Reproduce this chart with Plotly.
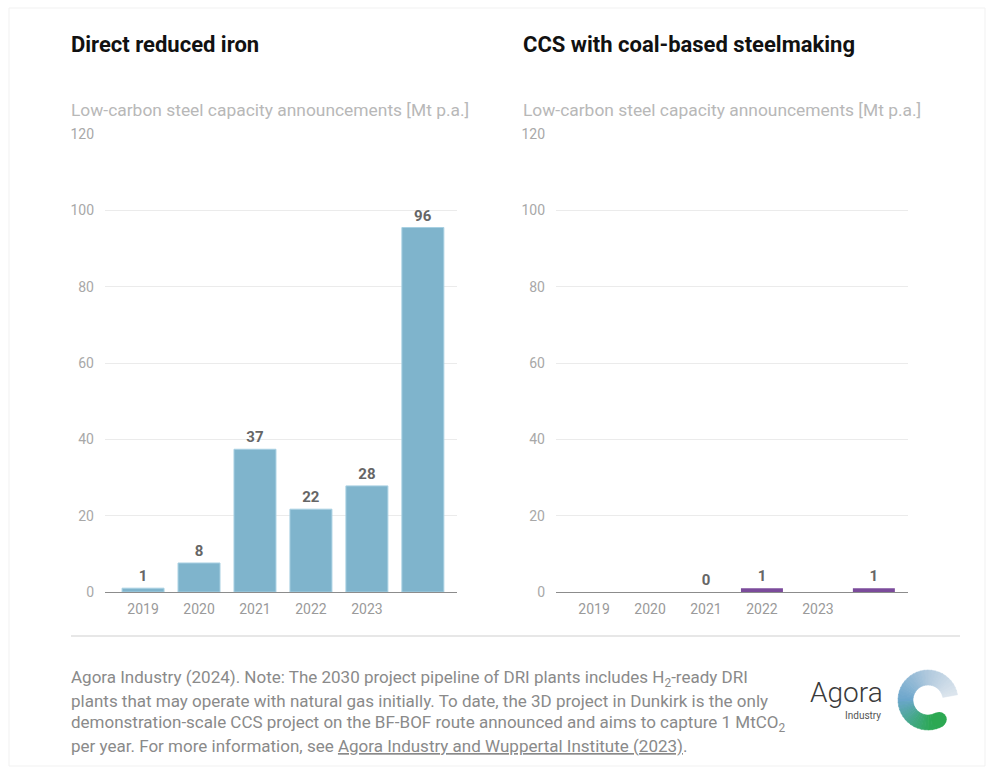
import math
import plotly.graph_objects as go

# ---------------- data ----------------
categories = ["2019", "2020", "2021", "2022", "2023", "2030"]
tick_labels = ["2019", "2020", "2021", "2022", "2023", ""]
dri_values = [1, 7.6, 37.4, 21.7, 27.8, 95.5]
dri_labels = ["1", "8", "37", "22", "28", "96"]
ccs_values = [None, None, 0, 1, None, 1]
ccs_labels = ["", "", "0", "1", "", "1"]

W, H = 987, 767
FONT = "Roboto"


def px(x):
    return x / W


def py(y):
    return 1 - y / H


fig = go.Figure()

fig.add_trace(go.Bar(
    x=categories, y=dri_values, text=dri_labels, textposition="outside",
    textfont=dict(family=FONT, size=15, color="#666666", weight="bold"),
    marker=dict(color="#7fb4cc", line=dict(color="#a8d0e2", width=1)),
    cliponaxis=False, xaxis="x", yaxis="y", showlegend=False, hoverinfo="skip",
))
fig.add_trace(go.Bar(
    x=categories, y=ccs_values, text=ccs_labels, textposition="outside",
    textfont=dict(family=FONT, size=15, color="#666666", weight="bold"),
    marker=dict(color="#7b4b9b", line=dict(color="#7b4b9b", width=0)),
    cliponaxis=False, xaxis="x2", yaxis="y2", showlegend=False, hoverinfo="skip",
))

xcommon = dict(
    type="category", categoryorder="array", categoryarray=categories,
    tickvals=categories, ticktext=tick_labels, range=[-0.68, 5.61],
    showgrid=False, showline=False, ticks="", zeroline=False,
    ticklabelstandoff=7, automargin=False,
    tickfont=dict(family=FONT, size=14, color="#9a9a9a"), fixedrange=True,
)
ycommon = dict(
    range=[0, 120], tickvals=[0, 20, 40, 60, 80, 100, 120],
    showgrid=True, gridcolor="#ebebeb", gridwidth=1,
    zeroline=True, zerolinecolor="#8c8c8c", zerolinewidth=1.3,
    showline=False, ticks="", ticklabelstandoff=10, automargin=False,
    tickfont=dict(family=FONT, size=14, color="#a8a8a8"), fixedrange=True,
)

fig.update_layout(
    width=W, height=H,
    margin=dict(l=0, r=0, t=0, b=0, pad=0, autoexpand=False),
    paper_bgcolor="white", plot_bgcolor="white",
    bargap=0.25,
    xaxis=dict(domain=[px(105), px(457)], anchor="y", **xcommon),
    yaxis=dict(domain=[py(592), py(134)], anchor="x", **ycommon),
    xaxis2=dict(domain=[px(556), px(908)], anchor="y2", **xcommon),
    yaxis2=dict(domain=[py(592), py(134)], anchor="x2", **ycommon),
    font=dict(family=FONT),
)

ann = []
# titles
for x0, t in [(69, "Direct reduced iron"), (521, "CCS with coal-based steelmaking")]:
    ann.append(dict(x=px(x0), y=py(44), xref="paper", yref="paper", text=t,
                    showarrow=False, xanchor="left", yanchor="middle",
                    font=dict(family=FONT, size=22, color="#111111", weight="bold")))
    ann.append(dict(x=px(x0), y=py(110), xref="paper", yref="paper",
                    text="Low-carbon steel capacity announcements [Mt p.a.]",
                    showarrow=False, xanchor="left", yanchor="middle",
                    font=dict(family=FONT, size=17.4, color="#b8b8b8")))

foot_lines = [
    "Agora Industry (2024). Note: The 2030 project pipeline of DRI plants includes H<sub>2</sub>-ready DRI",
    "plants that may operate with natural gas initially. To date, the 3D project in Dunkirk is the only",
    "demonstration-scale CCS project on the BF-BOF route announced and aims to capture 1 MtCO<sub>2</sub>",
    "per year. For more information, see <u>Agora Industry and Wuppertal Institute (2023)</u>.",
]
for i, line in enumerate(foot_lines):
    ann.append(dict(x=px(69), y=py(678 + i * 22.7), xref="paper", yref="paper",
                    text=line, showarrow=False, xanchor="left", yanchor="middle",
                    font=dict(family=FONT, size=17, color="#8a8a8a")))

# logo text
ann.append(dict(x=px(885), y=py(692), xref="paper", yref="paper", text="Agora",
                showarrow=False, xanchor="right", yanchor="middle",
                font=dict(family=FONT, size=28, color="#3a3a3a", weight=300)))
ann.append(dict(x=px(883), y=py(715), xref="paper", yref="paper", text="Industry",
                showarrow=False, xanchor="right", yanchor="middle",
                font=dict(family=FONT, size=10, color="#555555")))
fig.update_layout(annotations=ann)

shapes = []
# card border
shapes.append(dict(type="rect", xref="paper", yref="paper",
                   x0=px(9), x1=px(985), y0=py(766), y1=py(8),
                   line=dict(color="#f1f1f1", width=1), fillcolor="rgba(0,0,0,0)"))
# separator line
shapes.append(dict(type="line", xref="paper", yref="paper",
                   x0=px(71), x1=px(960), y0=py(636), y1=py(636),
                   line=dict(color="#cfcfcf", width=1.2)))

# logo ring (decorative)
cx, cy, ro, ri = 928, 700, 30, 15
stops = [(10, (222, 230, 238)), (90, (178, 202, 222)), (180, (108, 166, 204)),
         (230, (70, 168, 140)), (275, (46, 168, 88)), (300, (44, 168, 82))]


def col_at(a):
    for (a0, c0), (a1, c1) in zip(stops[:-1], stops[1:]):
        if a0 <= a <= a1:
            t = (a - a0) / (a1 - a0)
            return "rgb(%d,%d,%d)" % tuple(int(c0[k] + (c1[k] - c0[k]) * t) for k in range(3))
    return "rgb(%d,%d,%d)" % stops[-1][1]


def pt(r, a):
    ang = math.radians(a)
    return cx + r * math.cos(ang), cy - r * math.sin(ang)


n = 40
a_start, a_end = 10, 300
for i in range(n):
    a0 = a_start + (a_end - a_start) * i / n
    a1 = a_start + (a_end - a_start) * (i + 1) / n + 0.8
    p = [pt(ro, a0), pt(ro, a1), pt(ri, a1), pt(ri, a0)]
    path = "M %f,%f L %f,%f L %f,%f L %f,%f Z" % tuple(
        v for (x, y) in p for v in (px(x), py(y)))
    c = col_at((a0 + a1) / 2)
    shapes.append(dict(type="path", xref="paper", yref="paper", path=path,
                       fillcolor=c, line=dict(color=c, width=0.5)))
# rounded tail cap
mx, my = pt((ro + ri) / 2, a_end)
rc = (ro - ri) / 2
shapes.append(dict(type="circle", xref="paper", yref="paper",
                   x0=px(mx - rc), x1=px(mx + rc), y0=py(my + rc), y1=py(my - rc),
                   fillcolor=col_at(300), line=dict(color=col_at(300), width=0)))
fig.update_layout(shapes=shapes)

fig.write_html("out.html")
